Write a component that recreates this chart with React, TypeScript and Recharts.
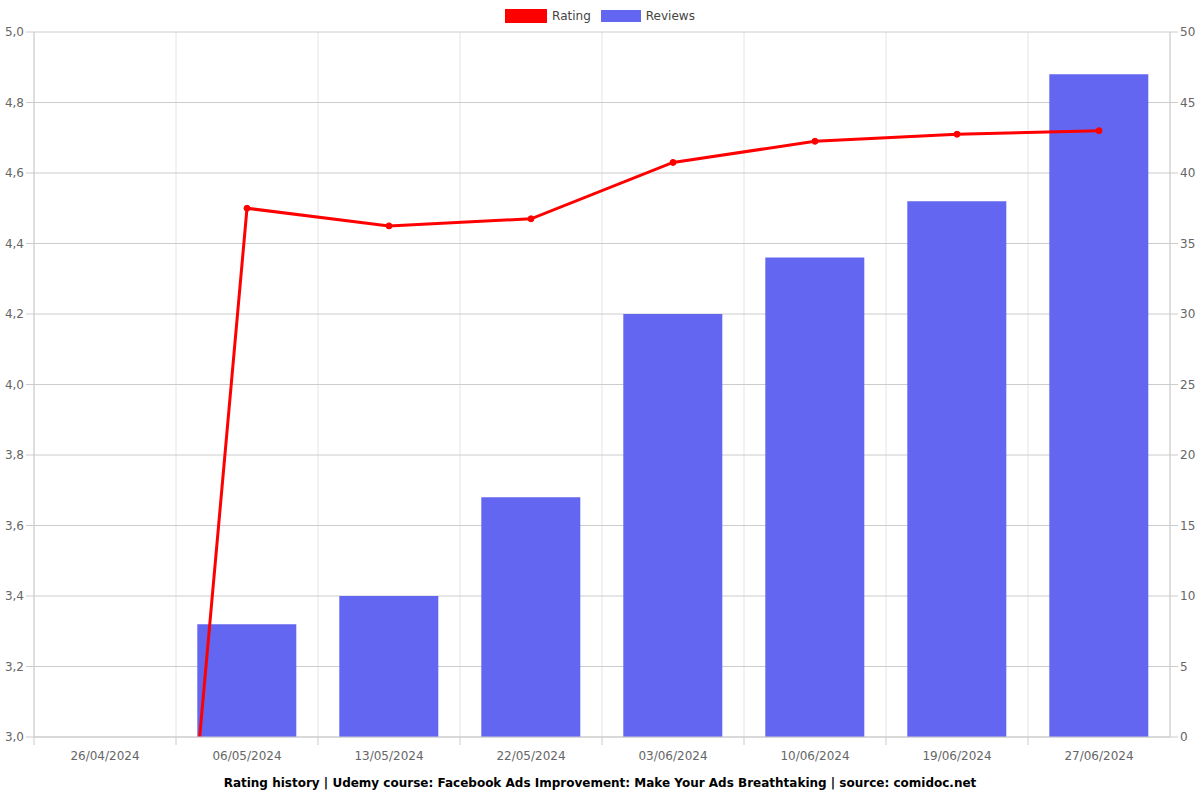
import {
  ComposedChart,
  Bar,
  Line,
  XAxis,
  YAxis,
  CartesianGrid,
} from 'recharts';

const dates = [
  '26/04/2024',
  '06/05/2024',
  '13/05/2024',
  '22/05/2024',
  '03/06/2024',
  '10/06/2024',
  '19/06/2024',
  '27/06/2024',
];
const ratings = [0, 4.5, 4.45, 4.47, 4.63, 4.69, 4.71, 4.72];
const reviews = [0, 8, 10, 17, 30, 34, 38, 47];
const ratingTicks = [3, 3.2, 3.4, 3.6, 3.8, 4, 4.2, 4.4, 4.6, 4.8, 5];
const reviewTicks = [0, 5, 10, 15, 20, 25, 30, 35, 40, 45, 50];

const chartData = dates.map((date, i) => ({
  date,
  rating: ratings[i],
  reviews: reviews[i],
}));

const FONT = '"DejaVu Sans", sans-serif';
const TEXT = '#666';
const AXIS = '#ccc';
const RED = '#ff0000';
const BLUE = '#6366f1';

const W = 1200;
const H = 770;
const MARGIN = { top: 32, right: 0, bottom: 0, left: 0 };
const LEFT_W = 34;
const RIGHT_W = 30;
const plotWidth = W - LEFT_W - RIGHT_W;
const step = plotWidth / dates.length;

const DateTick = (props: any) => {
  const { x, y, payload } = props;
  const bx = x - step / 2;
  return (
    <g>
      <line x1={bx} y1={y} x2={bx} y2={y + 8} stroke={AXIS} />
      <text
        x={x}
        y={y + 23}
        textAnchor="middle"
        fill={TEXT}
        fontSize={12}
        fontFamily={FONT}
      >
        {payload.value}
      </text>
    </g>
  );
};

const boundaries = ({ offset }: any) => {
  const out: number[] = [];
  for (let i = 0; i <= dates.length; i++) {
    out.push(offset.left + (i * offset.width) / dates.length);
  }
  return out;
};

export default function App() {
  return (
    <div
      style={{
        position: 'absolute',
        left: 0,
        top: 0,
        width: W,
        height: 800,
        background: '#fff',
        fontFamily: FONT,
      }}
    >
      {/* Legend */}
      <div
        style={{
          position: 'absolute',
          top: 9,
          left: 0,
          width: W,
          display: 'flex',
          justifyContent: 'center',
          alignItems: 'center',
          fontSize: 12,
          color: '#444',
          gap: 10,
        }}
      >
        <div style={{ display: 'flex', alignItems: 'center', gap: 5 }}>
          <div style={{ width: 42, height: 14, background: RED }} />
          <span>Rating</span>
        </div>
        <div style={{ display: 'flex', alignItems: 'center', gap: 5 }}>
          <div style={{ width: 40, height: 12, background: BLUE }} />
          <span>Reviews</span>
        </div>
      </div>

      <ComposedChart width={W} height={H} data={chartData} margin={MARGIN} barCategoryGap="15%">
        <CartesianGrid
          horizontal={false}
          stroke="#e4e4e4"
          verticalCoordinatesGenerator={boundaries}
        />
        <CartesianGrid vertical={false} stroke={AXIS} yAxisId="rating" />
        <XAxis
          dataKey="date"
          height={H - 32 - 705}
          tick={<DateTick />}
          tickLine={false}
          tickSize={0}
          tickMargin={0}
          stroke={AXIS}
          interval={0}
        />
        <YAxis
          yAxisId="rating"
          orientation="left"
          width={LEFT_W}
          domain={[3, 5]}
          ticks={ratingTicks}
          allowDataOverflow
          tickFormatter={(v: number) => v.toFixed(1).replace('.', ',')}
          tick={{ fill: TEXT, fontSize: 12, fontFamily: FONT }}
          stroke={AXIS}
          tickSize={8}
          tickMargin={2}
        />
        <YAxis
          yAxisId="reviews"
          orientation="right"
          width={RIGHT_W}
          domain={[0, 50]}
          ticks={reviewTicks}
          tick={{ fill: TEXT, fontSize: 12, fontFamily: FONT }}
          stroke={AXIS}
          tickSize={8}
          tickMargin={2}
        />
        <Bar
          yAxisId="reviews"
          dataKey="reviews"
          fill={BLUE}
          isAnimationActive={false}
        />
        <Line
          yAxisId="rating"
          dataKey="rating"
          stroke={RED}
          strokeWidth={3}
          dot={{ r: 3, fill: RED, stroke: RED, strokeWidth: 1 }}
          isAnimationActive={false}
        />
      </ComposedChart>

      <div
        style={{
          position: 'absolute',
          top: 776,
          left: 0,
          width: W,
          textAlign: 'center',
          fontSize: 12,
          fontWeight: 'bold',
          color: '#000',
        }}
      >
        Rating history | Udemy course: Facebook Ads Improvement: Make Your Ads Breathtaking | source: comidoc.net
      </div>
    </div>
  );
}
